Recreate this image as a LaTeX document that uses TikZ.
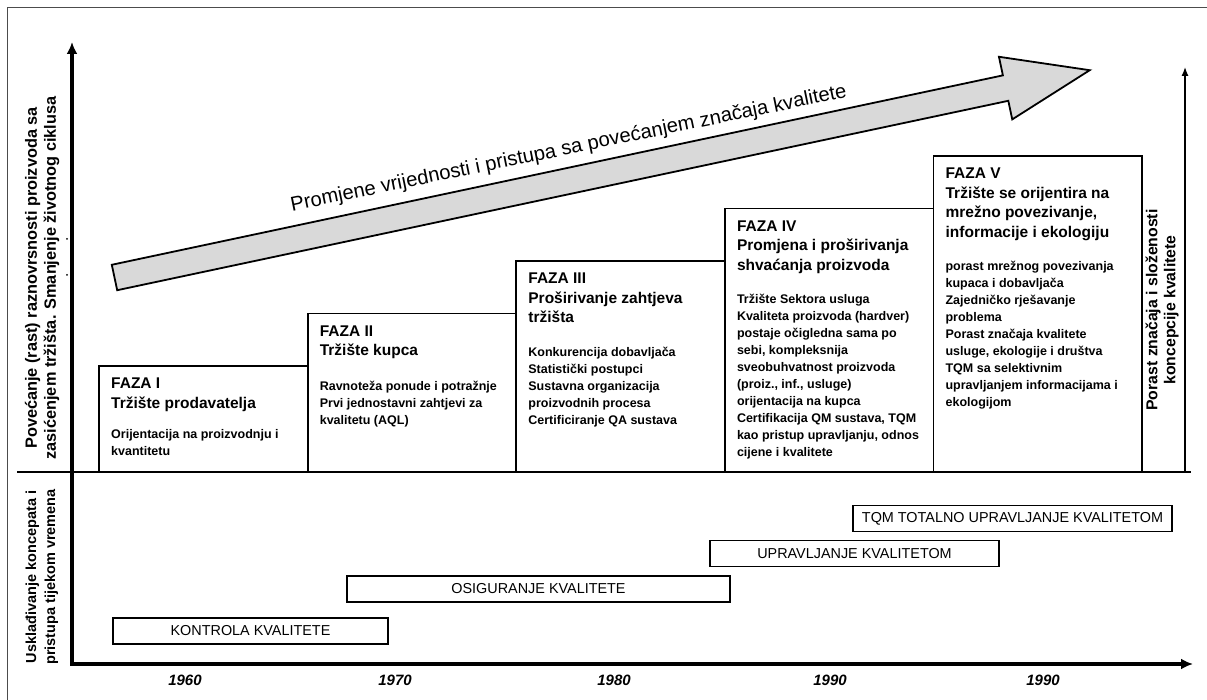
\documentclass[tikz,border=0pt]{standalone}
\usepackage{fontspec}
\setmainfont{Liberation Sans}
\usetikzlibrary{calc, positioning, arrows.meta}
\definecolor{framegray}{gray}{0.3}
\definecolor{arrowgray}{gray}{0.85}

\begin{document}
\begin{tikzpicture}[x=1pt, y=-1pt]
        \useasboundingbox (0,0) rectangle (1207,700);
        \draw [framegray, line width=1.5pt] (7.5,700) -- (7.5,7.5) -- (1207,7.5);

        \coordinate (O) at (72,664);
        \coordinate (Ytop) at (72,42);
        \coordinate (Xend) at (1193,664);
        \coordinate (Dl) at (17,472);
        \coordinate (Dr) at (1191,472);
        \coordinate (Rb) at (1185,472);
        \coordinate (Rt) at (1185,67);

        \foreach \na/\ty in {1/366, 2/313.5, 3/261, 4/208.5, 5/156}{
            \coordinate (F\na) at ({99+208.6*(\na-1)}, \ty);
            \coordinate (F\na b) at ({99+208.6*\na}, 472);
        }

        \tikzstyle{phase} = [draw, line width=1.8pt];
        \foreach \na in {1, ..., 5}{
            \draw [phase] (F\na) rectangle (F\na b);
        }

        \tikzstyle{axis} = [line width=4pt, line join=miter, {Latex[length=12pt, width=11pt]}-{Latex[length=12pt, width=11pt]}];
        \draw [axis] (Ytop) -- (O) -- (Xend);
        \draw [line width=1.8pt] (Dl) -- (Dr);
        \draw [line width=1.3pt, -{Latex[length=9pt, width=7pt]}] (Rb) -- (Rt);

        \fill (67,239) circle (1pt);
        \fill (67,275) circle (1pt);

        % big arrow
        \begin{scope}[shift={(114.5,277.5)}, rotate=12]
            \draw [fill=arrowgray, line width=1.8pt, line join=miter]
                (0,13) -- (911,13) -- (911,32) -- (997,0) -- (911,-32) -- (911,-13) -- (0,-13) -- cycle;
            \node [anchor=base, rotate=11.6, inner sep=0pt, font=\fontsize{20.2}{22}\selectfont] (Tarrow) at (471,-26)
                {Promjene vrijednosti i pristupa sa povećanjem značaja kvalitete};
        \end{scope}

        \tikzstyle{head} = [anchor=north west, align=left, inner sep=0pt, font=\fontsize{15.5}{19.5}\selectfont\bfseries];
        \tikzstyle{body} = [align=left, inner sep=0pt, font=\fontsize{12.5}{17}\selectfont\bfseries];

        \node [head] (H1) at ($(F1) + (12,12)$) {FAZA I\\Tržište prodavatelja};
        \node [body, below right=17pt and 0pt of H1.south west] (B1)
            {Orijentacija na proizvodnju i\\kvantitetu};

        \node [head] (H2) at ($(F2) + (12,12)$) {FAZA II\\Tržište kupca};
        \node [body, below right=22pt and 0pt of H2.south west] (B2)
            {Ravnoteža ponude i potražnje\\Prvi jednostavni zahtjevi za\\kvalitetu (AQL)};

        \node [head] (H3) at ($(F3) + (12,12)$) {FAZA III\\Proširivanje zahtjeva\\tržišta};
        \node [body, below right=24pt and 0pt of H3.south west] (B3)
            {Konkurencija dobavljača\\Statistički postupci\\Sustavna organizacija\\proizvodnih procesa\\Certificiranje QA sustava};

        \node [head] (H4) at ($(F4) + (12,12)$) {FAZA IV\\Promjena i proširivanja\\shvaćanja proizvoda};
        \node [body, below right=20pt and 0pt of H4.south west] (B4)
            {Tržište Sektora usluga\\Kvaliteta proizvoda (hardver)\\postaje očigledna sama po\\sebi, kompleksnija\\sveobuhvatnost proizvoda\\(proiz., inf., usluge)\\orijentacija na kupca\\Certifikacija QM sustava, TQM\\kao pristup upravljanju, odnos\\cijene i kvalitete};

        \node [head] (H5) at ($(F5) + (12,12)$) {FAZA V\\Tržište se orijentira na\\mrežno povezivanje,\\informacije i ekologiju};
        \node [body, below right=20pt and 0pt of H5.south west] (B5)
            {porast mrežnog povezivanja\\kupaca i dobavljača\\Zajedničko rješavanje\\problema\\Porast značaja kvalitete\\usluge, ekologije i društva\\TQM sa selektivnim\\upravljanjem informacijama i\\ekologijom};

        \tikzstyle{side} = [rotate=90, align=center, inner sep=0pt, font=\fontsize{14.5}{19}\selectfont\bfseries];
        \node [side, font=\fontsize{16.3}{19}\selectfont\bfseries] (Lt) at (42,278)
            {Povećanje (rast) raznovrsnosti proizvoda sa\\zasićenjem tržišta. Smanjenje životnog ciklusa};
        \node [side] (Lb) at (42,577) {Usklađivanje koncepata i\\pristupa tijekom vremena};
        \node [side, font=\fontsize{15.8}{18}\selectfont\bfseries] (Lr) at (1162,310)
            {Porast značaja i složenosti\\koncepcije kvalitete};

        \tikzstyle{bar} = [draw, line width=1.8pt, minimum height=26pt, inner sep=0pt, font=\fontsize{14.4}{16}\selectfont];
        \node [bar, minimum width=275pt] (K1) at (250.5,631) {KONTROLA KVALITETE};
        \node [bar, minimum width=383pt] (K2) at (538.5,589) {OSIGURANJE KVALITETE};
        \node [bar, minimum width=289pt] (K3) at (854.5,553.5) {UPRAVLJANJE KVALITETOM};
        \node [bar, minimum width=319pt] (K4) at (1012.5,518.5) {TQM TOTALNO UPRAVLJANJE KVALITETOM};

        \tikzstyle{year} = [inner sep=0pt, font=\fontsize{15}{17}\selectfont\bfseries\itshape];
        \foreach \yr/\xx in {1960/185, 1970/395, 1980/614, 1990/830, 1990/1043}{
            \node [year] (Y\xx) at (\xx,680) {\yr};
        }
    \end{tikzpicture}
\end{document}
